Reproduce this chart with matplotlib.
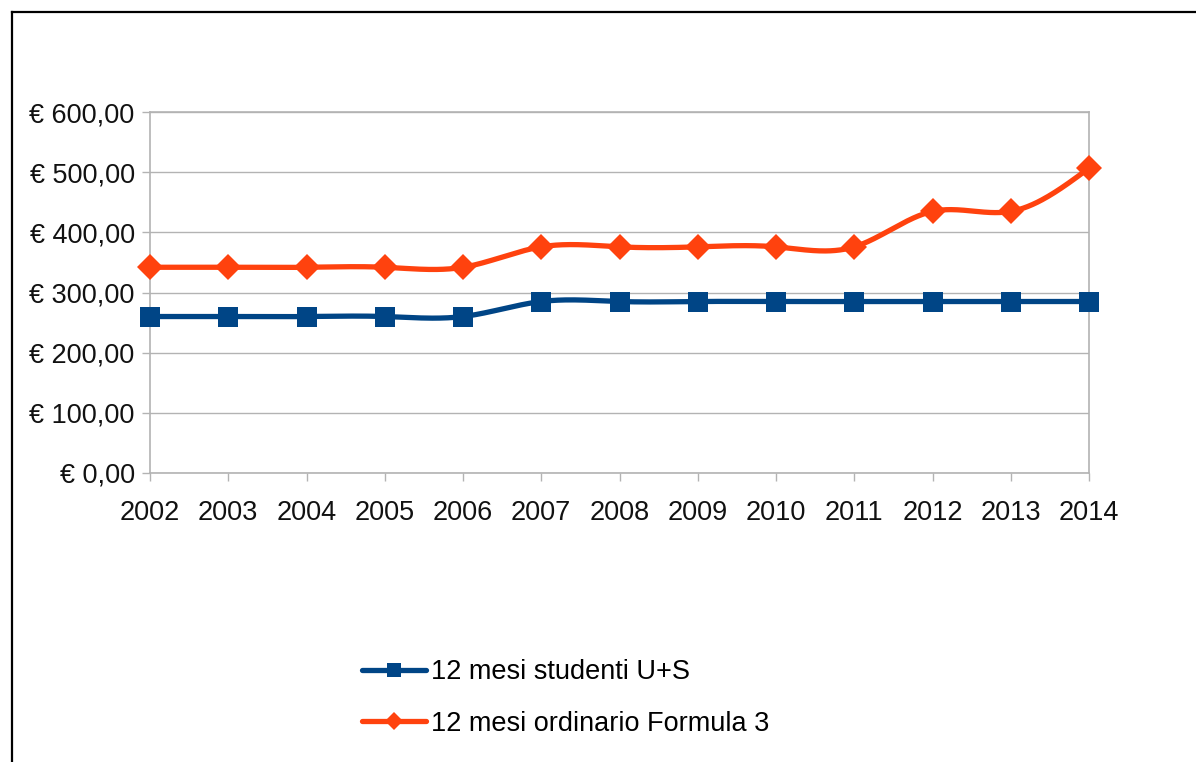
import numpy as np
import matplotlib
matplotlib.use("Agg")
import matplotlib.pyplot as plt
from matplotlib.lines import Line2D

plt.rcParams['font.family'] = ['Liberation Sans', 'DejaVu Sans']

years = ["2002", "2003", "2004", "2005", "2006", "2007", "2008",
         "2009", "2010", "2011", "2012", "2013", "2014"]
studenti = [260, 260, 260, 260, 260, 285, 285, 285, 285, 285, 285, 285, 285]
ordinario = [342, 342, 342, 342, 342, 376, 376, 376, 376, 376, 435, 435, 507]
series_names = ["12 mesi studenti U+S", "12 mesi ordinario Formula 3"]
y_ticks = [0, 100, 200, 300, 400, 500, 600]
y_tick_labels = ["€ 0,00", "€ 100,00", "€ 200,00", "€ 300,00",
                 "€ 400,00", "€ 500,00", "€ 600,00"]

BLUE = "#004586"
ORANGE = "#ff420e"
GRID = "#b3b3b3"
FS = 19.5


def natural_spline(x, y, n=600):
    """Smooth curve through (x, y) using a natural cubic spline."""
    x = np.asarray(x, float)
    y = np.asarray(y, float)
    m = len(x)
    h = np.diff(x)
    A = np.zeros((m, m))
    rhs = np.zeros(m)
    A[0, 0] = 1.0
    A[-1, -1] = 1.0
    for i in range(1, m - 1):
        A[i, i - 1] = h[i - 1]
        A[i, i] = 2 * (h[i - 1] + h[i])
        A[i, i + 1] = h[i]
        rhs[i] = 3 * ((y[i + 1] - y[i]) / h[i] - (y[i] - y[i - 1]) / h[i - 1])
    c = np.linalg.solve(A, rhs)
    b = (y[1:] - y[:-1]) / h - h * (2 * c[:-1] + c[1:]) / 3
    d = (c[1:] - c[:-1]) / (3 * h)
    xs = np.linspace(x[0], x[-1], n)
    idx = np.clip(np.searchsorted(x, xs, side="right") - 1, 0, m - 2)
    dx = xs - x[idx]
    ys = y[idx] + b[idx] * dx + c[idx] * dx ** 2 + d[idx] * dx ** 3
    return xs, ys


fig = plt.figure(figsize=(11.96, 7.62), dpi=100)
ax = fig.add_axes([150 / 1196, 1 - 472.7 / 762, (1089 - 150) / 1196, (472.7 - 112.3) / 762])

x = np.arange(len(years))

for vals, color, marker, ms in [(studenti, BLUE, "s", 14), (ordinario, ORANGE, "D", 13)]:
    xs, ys = natural_spline(x, vals)
    ax.plot(xs, ys, color=color, lw=3.8, solid_capstyle="round", clip_on=False, zorder=3)
    ax.plot(x, vals, linestyle="none", marker=marker, ms=ms, color=color,
            markeredgewidth=0, clip_on=False, zorder=4)

ax.set_xlim(0, len(years) - 1)
ax.set_ylim(0, 600)
ax.set_xticks(x)
ax.set_xticklabels(years)
ax.set_yticks(y_ticks)
ax.set_yticklabels(y_tick_labels)

ax.yaxis.grid(True, color=GRID, lw=1)
ax.set_axisbelow(True)
for s in ax.spines.values():
    s.set_color(GRID)
    s.set_linewidth(1.2)

ax.tick_params(axis="both", colors=GRID, labelcolor="#111111", labelsize=FS,
               length=6, width=1)
ax.tick_params(axis="x", pad=14)
ax.tick_params(axis="y", pad=5)

handles = [
    Line2D([], [], color=BLUE, lw=3.8, marker="s", ms=10, markeredgewidth=0,
           solid_capstyle="round"),
    Line2D([], [], color=ORANGE, lw=3.8, marker="D", ms=9, markeredgewidth=0,
           solid_capstyle="round"),
]
fig.legend(handles, series_names, loc="upper left",
           bbox_to_anchor=(362 / 1196, 1 - 659 / 762), frameon=False,
           fontsize=FS, handlelength=2.35, handletextpad=0.2,
           labelspacing=0.95, borderpad=0, borderaxespad=0)

# outer frame: left and top edges
fig.add_artist(Line2D([11.5 / 1196, 11.5 / 1196], [0, 1 - 11.5 / 762],
                      transform=fig.transFigure, color="black", lw=1.6))
fig.add_artist(Line2D([11.5 / 1196, 1], [1 - 11.5 / 762, 1 - 11.5 / 762],
                      transform=fig.transFigure, color="black", lw=1.6))

fig.savefig("out.png", dpi=100, facecolor="white")
